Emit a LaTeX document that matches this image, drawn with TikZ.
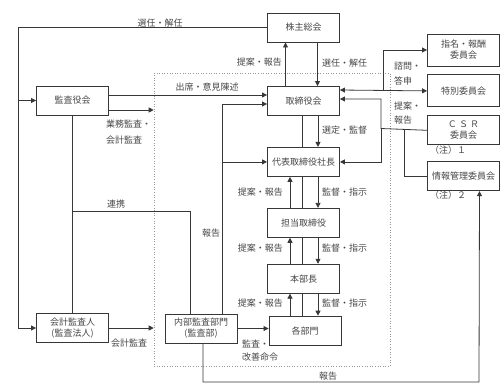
\documentclass[tikz,border=0pt]{standalone}
\usepackage{fontspec}
\setmainfont{Noto Sans CJK JP}
\usepackage{tikz}
\usetikzlibrary{positioning, arrows.meta, calc}
\definecolor{linegray}{RGB}{55,55,55}
\definecolor{framegray}{RGB}{150,150,150}
\definecolor{textgray}{RGB}{70,70,70}

\begin{document}
\begin{tikzpicture}[x=1pt, y=-1pt,
  box/.style={rectangle, draw=linegray, line width=0.9pt,
              minimum width=72pt, minimum height=29pt, inner sep=1pt,
              align=center, text=textgray, font=\fontsize{9}{11}\selectfont},
  arr/.style={-{Triangle[length=5pt,width=5pt]}, line width=0.8pt, draw=linegray},
  twoway/.style={{Triangle[length=5pt,width=5pt]}-{Triangle[length=5pt,width=5pt]},
                 line width=0.8pt, draw=linegray},
  ln/.style={line width=0.8pt, draw=linegray},
  dbl/.style={double=white, double distance=2pt, line width=0.7pt, draw=linegray},
  lbl/.style={font=\fontsize{9}{15}\selectfont, align=left, text=textgray, inner sep=1pt}
]
  \useasboundingbox (0,0) rectangle (501,389);

  % frame of the executive side
  \node[draw=framegray, dotted, line width=0.6pt, minimum width=236pt,
        minimum height=293pt, inner sep=0pt] (exec) at (272,219.5) {};

  \node[box] (shareholders) at (303.5,27.5) {株主総会};
  \node[box] (board) at (303.5,101) {取締役会};
  \node[box, below=31pt of board]  (president) {代表取締役社長};
  \node[box, below=31pt of president] (director) {担当取締役};
  \node[box, below=26pt of director]  (hqhead) {本部長};
  \node[box, below=22pt of hqhead, xshift=1.5pt] (depts) {各部門};

  \node[box] (auditboard) at (72.5,100.5) {監査役会};
  \node[box] (extaud) at (72.5,328) {会計監査人\\(監査法人)};
  \node[box] (intaud) at (201,328.5) {内部監査部門\\(監査部)};

  \node[box, minimum height=32pt] (nomcom) at (463.5,50) {指名・報酬\\委員会};
  \node[box, minimum height=32pt, below=8pt of nomcom] (special) {特別委員会};
  \node[box, below=8pt of special] (csr) {Ｃ Ｓ Ｒ\\委員会};
  \node[box, below=16pt of csr] (infocom) {情報管理委員会};
  \node[lbl] (note1) at (448,150) {（注）１};
  \node[lbl] (note2) at (448,195) {（注）２};

  % shareholders and auditors
  \coordinate (rail) at (18,100.5);
  \draw[arr] (shareholders.west) -| (rail) -- (auditboard.west);
  \draw[arr] (rail) |- (extaud.west);
  \node[lbl] (electtop) at (160,23) {選任・解任};
  \draw[arr] ([xshift=-18pt]board.north) -- ([xshift=-18pt]shareholders.south);
  \draw[arr] ([xshift=14pt]shareholders.south) -- ([xshift=14pt]board.north);
  \node[lbl, anchor=east] (proptop) at (283,62) {提案・報告};
  \node[lbl, anchor=west] (electmid) at (321,63) {選任・解任};

  \draw[arr] ([yshift=5.5pt]auditboard.east) -- ([yshift=5.5pt]auditboard.east -| board.west);
  \node[lbl] (attend) at (207,87) {出席・意見陳述};
  \draw[arr] ([yshift=-9.5pt]auditboard.east) -- ([yshift=-9.5pt]auditboard.east -| exec.west);
  \node[lbl, anchor=north west, font=\fontsize{9}{16}\selectfont] (bizaudit) at (105,119) {業務監査・\\会計監査};
  \draw[ln] (auditboard.south) -- (extaud.north);
  \coordinate (linkpt) at (72.5,211);
  \draw[ln] (linkpt) -| ([xshift=-11pt]intaud.north);
  \node[lbl] (linklbl) at (116,204) {連携};
  \draw[arr] (extaud.east) -- (extaud.east -| exec.west);
  \node[lbl] (extlbl) at (129,343) {会計監査};

  % internal audit
  \draw[arr] ([xshift=21pt]intaud.north) |- ([yshift=-3pt]board.west);
  \draw[arr] ([xshift=21pt]intaud.north |- president.west) -- (president.west);
  \node[lbl] (rptleft) at (211,233) {報告};
  \draw[arr] (intaud.east) -- (intaud.east -| depts.west);
  \node[lbl, anchor=north west, font=\fontsize{9}{13}\selectfont] (improve) at (241,339) {監査・\\改善命令};
  \coordinate (rptcorner) at (479,382);
  \draw[arr] ([xshift=2pt]intaud.south) |- (rptcorner) -- ([xshift=16pt]infocom.south);
  \node[lbl] (rptbottom) at (328,376) {報告};

  % chain of command
  \draw[dbl] (board.south) -- (president.north);
  \draw[dbl] (president.south) -- (director.north);
  \draw[dbl] (director.south) -- (hqhead.north);
  \draw[dbl] (hqhead.south) -- (hqhead.south |- depts.north);
  \draw[arr] ([xshift=14.5pt]board.south) -- ([xshift=14.5pt]president.north);
  \draw[arr] ([xshift=14.5pt]president.south) -- ([xshift=14.5pt]director.north);
  \draw[arr] ([xshift=14.5pt]director.south) -- ([xshift=14.5pt]hqhead.north);
  \draw[arr] ([xshift=14.5pt]hqhead.south) -- ([xshift=14.5pt]hqhead.south |- depts.north);
  \draw[arr] ([xshift=-13.5pt]director.north) -- ([xshift=-13.5pt]president.south);
  \draw[arr] ([xshift=-13.5pt]hqhead.north) -- ([xshift=-13.5pt]director.south);
  \draw[arr] ([xshift=-13.5pt]hqhead.south |- depts.north) -- ([xshift=-13.5pt]hqhead.south);
  \node[lbl, anchor=west] (select) at (321,130) {選定・監督};
  \node[lbl, anchor=west] (sup1) at (321,192) {監督・指示};
  \node[lbl, anchor=west] (sup2) at (321,248) {監督・指示};
  \node[lbl, anchor=west] (sup3) at (321,303) {監督・指示};
  \node[lbl, anchor=east] (prop1) at (284,192) {提案・報告};
  \node[lbl, anchor=east] (prop2) at (284,248) {提案・報告};
  \node[lbl, anchor=east] (prop3) at (284,303) {提案・報告};

  % committees
  \draw[twoway] ([yshift=11pt]board.east) -- (special.west);
  \coordinate (fork) at (383,90);
  \draw[arr] (fork) |- (nomcom.west);
  \node[lbl, anchor=north west] (consult) at (393,61) {諮問・\\答申};
  \coordinate (hub) at (381,128.5);
  \draw[arr] (csr.west) -- (hub) |- ([yshift=2pt]board.east);
  \draw[arr] (hub) |- (president.east);
  \coordinate (tap) at (404,128.5);
  \draw[ln] (tap) |- (infocom.west);
  \node[lbl, anchor=north west, font=\fontsize{9}{14}\selectfont] (propright) at (393,101) {提案・\\報告};
\end{tikzpicture}
\end{document}
